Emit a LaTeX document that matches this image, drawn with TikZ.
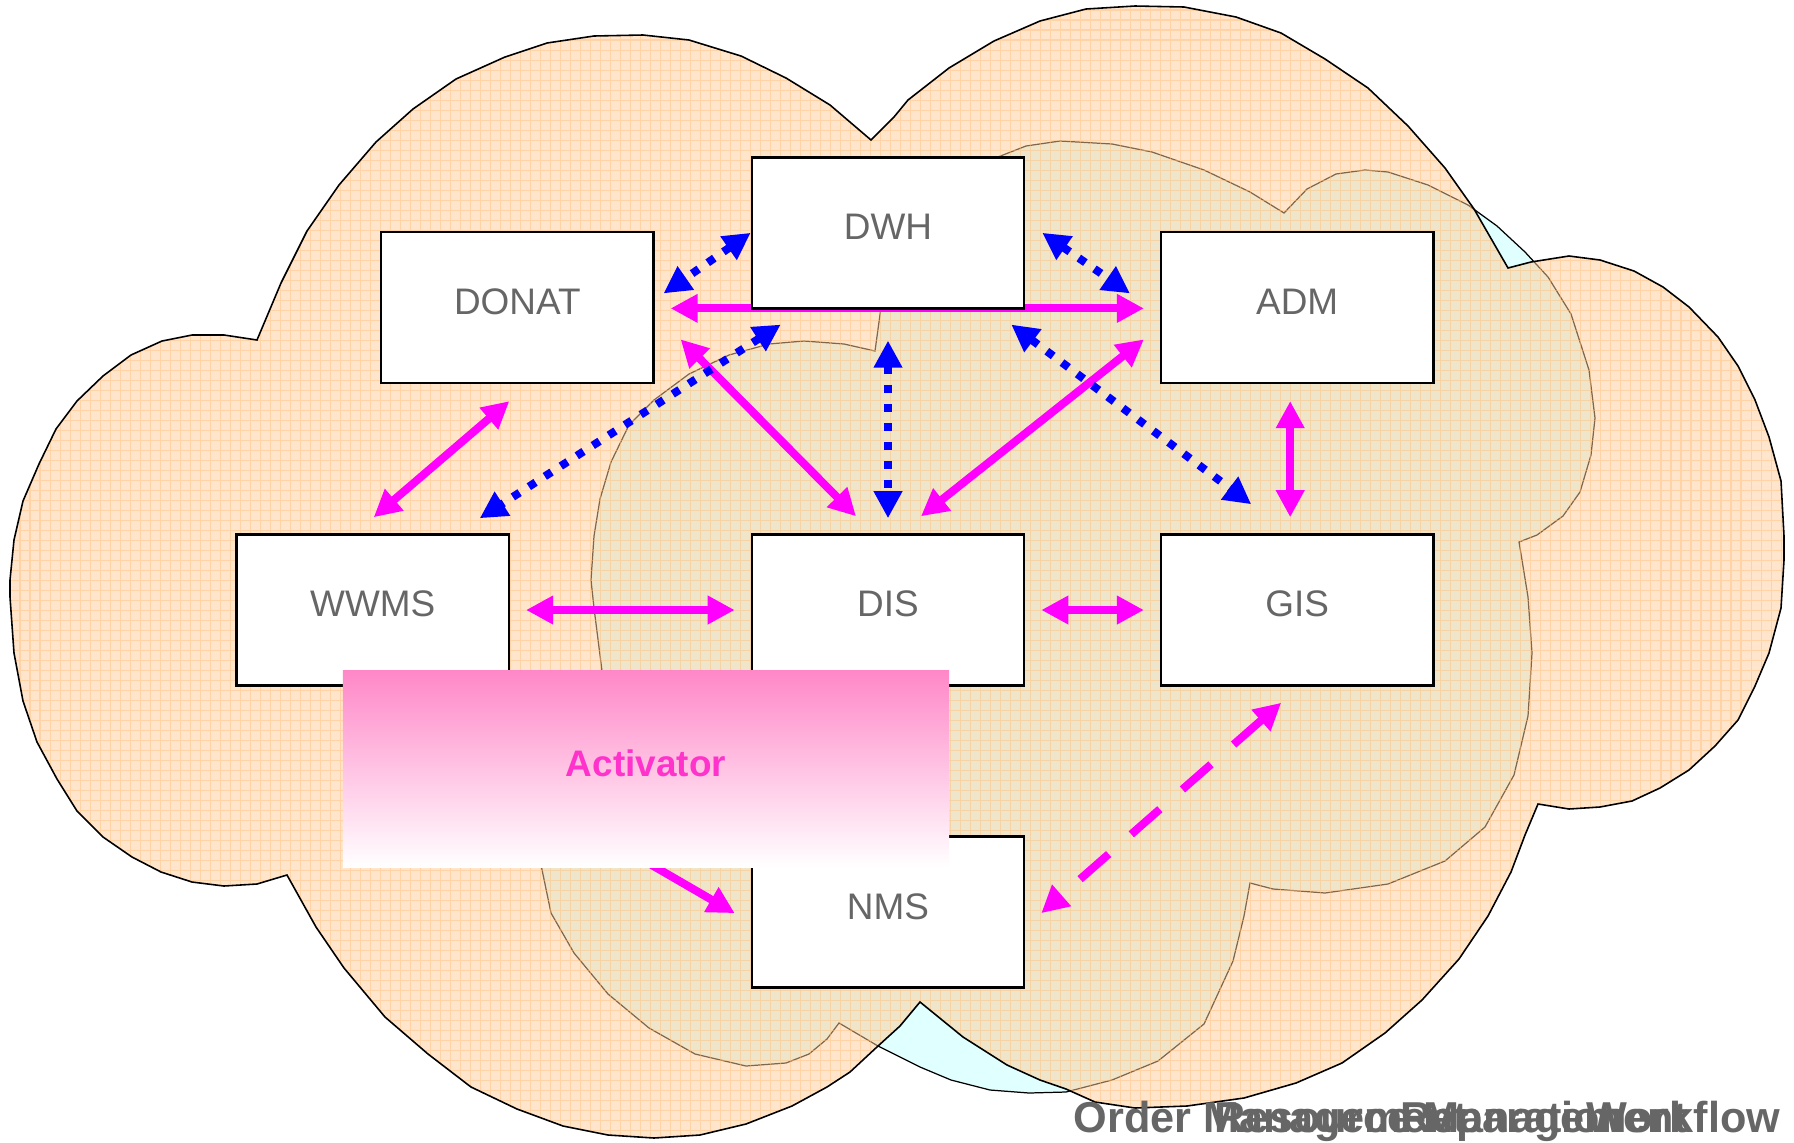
\documentclass[tikz,border=0pt]{standalone}
\usepackage{fontspec}
\setmainfont{Liberation Sans}
\usepackage{xcolor}
\usetikzlibrary{arrows.meta,positioning,calc}

\definecolor{linkpink}{RGB}{255,0,255}
\definecolor{linkblue}{RGB}{0,0,255}
\definecolor{cloudpeach}{RGB}{255,204,153}
\definecolor{cloudcyan}{RGB}{224,255,255}
\definecolor{gridorange}{RGB}{255,190,120}
\definecolor{labelgray}{RGB}{102,102,102}
\definecolor{actpink}{RGB}{255,136,200}
\definecolor{actmagenta}{RGB}{255,51,204}

\pgfdeclarelayer{clouds}
\pgfdeclarelayer{links}
\pgfsetlayers{clouds,links,main}

% outline of the big cloud
\newcommand{\outercloud}{(257,340) -- (281,283) -- (307,231) -- (339,185) -- (376,142) -- (413,109) -- (456,79) -- (505,57) -- (547,43) -- (594,36) -- (643,35) -- (689,40) -- (741,56) -- (786,78) -- (830,105) -- (871,140) -- (894,117) -- (908,100) -- (949,68) -- (994,41) -- (1040,21) -- (1086,9) -- (1135,6) -- (1184,7) -- (1236,17) -- (1281,33) -- (1325,59) -- (1368,88) -- (1408,126) -- (1445,168) -- (1474,209) -- (1508,268) -- (1531,262) -- (1569,256) -- (1600,260) -- (1634,271) -- (1663,287) -- (1689,307) -- (1718,337) -- (1738,366) -- (1755,400) -- (1769,437) -- (1781,481) -- (1784,536) -- (1784,560) -- (1781,608) -- (1769,653) -- (1755,686) -- (1738,720) -- (1715,746) -- (1689,770) -- (1660,788) -- (1632,801) -- (1600,807) -- (1569,809) -- (1538,804) -- (1525,835) -- (1511,872) -- (1488,916) -- (1459,959) -- (1422,1000) -- (1385,1033) -- (1342,1063) -- (1296,1083) -- (1244,1098) -- (1187,1106) -- (1135,1108) -- (1095,1102) -- (1066,1089) -- (1040,1080) -- (1007,1065) -- (963,1037) -- (920,1002) -- (900,1026) -- (878,1046) -- (850,1072) -- (827,1087) -- (792,1106) -- (746,1124) -- (700,1135) -- (654,1138) -- (608,1135) -- (563,1126) -- (517,1109) -- (471,1087) -- (428,1054) -- (385,1017) -- (344,968) -- (316,927) -- (287,875) -- (257,884) -- (224,886) -- (192,882) -- (161,872) -- (132,857) -- (103,837) -- (77,811) -- (57,779) -- (37,742) -- (23,701) -- (14,653) -- (10,597) -- (10,580) -- (14,540) -- (23,501) -- (39,464) -- (56,429) -- (77,401) -- (103,376) -- (131,355) -- (162,341) -- (192,335) -- (224,335) -- cycle}
% outline of the small cloud behind it
\newcommand{\innercloud}{(875,351) -- (844,344) -- (804,341) -- (769,344) -- (729,355) -- (689,374) -- (654,400) -- (629,425) -- (611,462) -- (600,499) -- (594,536) -- (591,580) -- (594,608) -- (602,671) -- (610,720) -- (580,760) -- (552,810) -- (540,860) -- (551,913) -- (574,953) -- (608,994) -- (649,1028) -- (695,1054) -- (746,1066) -- (786,1063) -- (809,1054) -- (827,1039) -- (839,1023) -- (878,1046) -- (920,1067) -- (951,1080) -- (990,1090) -- (1029,1093) -- (1066,1092) -- (1112,1080) -- (1158,1061) -- (1204,1024) -- (1233,961) -- (1244,916) -- (1250,883) -- (1273,889) -- (1325,893) -- (1388,884) -- (1445,861) -- (1485,827) -- (1514,775) -- (1528,716) -- (1532,653) -- (1528,597) -- (1522,560) -- (1519,542) -- (1537,535) -- (1563,516) -- (1580,492) -- (1591,455) -- (1595,418) -- (1589,370) -- (1571,314) -- (1548,277) -- (1525,252) -- (1497,226) -- (1468,205) -- (1428,185) -- (1388,172) -- (1365,170) -- (1336,174) -- (1307,189) -- (1284,213) -- (1250,192) -- (1204,170) -- (1152,152) -- (1112,144) -- (1060,141) -- (1026,146) -- (1003,155) -- (960,172) -- (920,205) -- (895,250) -- (882,300) -- cycle}

\begin{document}
\begin{tikzpicture}[
    x=0.01cm, y=-0.01cm,
    sysbox/.style={
        rectangle,
        draw=black,
        line width=0.7pt,
        fill=white,
        minimum width=2.72cm,
        minimum height=1.51cm,
        inner sep=0pt,
        text=labelgray,
        text depth=0.12cm,
        font=\fontsize{10.5}{12}\selectfont
    },
    actbox/.style={
        rectangle,
        minimum width=6.06cm,
        minimum height=1.96cm,
        inner sep=0pt,
        top color=actpink,
        bottom color=white,
        text=actmagenta,
        text depth=0.12cm,
        font=\bfseries\fontsize{10.5}{12}\selectfont
    },
    link/.style={{Triangle[length=2.7mm,width=2.7mm]}-{Triangle[length=2.7mm,width=2.7mm]}, linkpink, line width=0.8mm},
    oneway/.style={-{Triangle[length=2.7mm,width=2.7mm]}, linkpink, line width=0.8mm},
    dashlink/.style={link, dash pattern=on 3.8mm off 3mm},
    dotlink/.style={{Triangle[length=2.7mm,width=2.7mm]}-{Triangle[length=2.7mm,width=2.7mm]}, linkblue, line width=0.8mm, dash pattern=on 0.8mm off 1.1mm},
    slidetext/.style={inner sep=0pt, text=labelgray, font=\bfseries\fontsize{12.3}{14}\selectfont}
]
\useasboundingbox (0,0) rectangle (1794,1142);

% =========================================
% Clouds
% =========================================
\begin{pgfonlayer}{clouds}
\filldraw[fill=cloudcyan, draw=black, line width=0.35pt] \innercloud;
\fill[cloudpeach, fill opacity=0.5] \outercloud;
\begin{scope}
    \clip \outercloud;
    \draw[gridorange, line width=0.3pt, opacity=0.45, step=1mm] (0,0) grid (1794,1142);
\end{scope}
\draw[black, line width=0.45pt] \outercloud;
\end{pgfonlayer}

% =========================================
% Systems
% =========================================
\node[sysbox] (dis) at (888,610) {DIS};
\node[sysbox, left=2.405cm of dis] (wwms) {WWMS};
\node[sysbox, right=1.345cm of dis] (gis) {GIS};
\node[sysbox, above=2.235cm of dis] (dwh) {DWH};
\node[sysbox, below=1.485cm of dis] (nms) {NMS};
\node[sysbox, above=1.49cm of wwms, xshift=1.445cm] (donat) {DONAT};
\node[sysbox, above=1.49cm of gis] (adm) {ADM};

% free end of the link hidden behind the activator
\coordinate (actout) at (600,835);

% =========================================
% Links
% =========================================
\begin{pgfonlayer}{links}
% solid magenta
\draw[link] ($(donat.east)+(16,1)$) -- ($(adm.west)+(-16,1)$);
\draw[link] ($(donat.east)+(26,32)$) -- ($(dis.north)+(-32,-17)$);
\draw[link] ($(adm.west)+(-16,32)$) -- ($(dis.north)+(33,-17)$);
\draw[link] ($(donat.south)+(-8,17)$) -- ($(wwms.north)+(1,-16)$);
\draw[link] ($(adm.south)+(-7,17)$) -- ($(gis.north)+(-7,-16)$);
\draw[link] ($(wwms.east)+(16,0)$) -- ($(dis.west)+(-16,0)$);
\draw[link] ($(dis.east)+(16,0)$) -- ($(gis.west)+(-16,0)$);
\draw[oneway] (actout) -- ($(nms.west)+(-16,1)$);
\draw[dashlink] ($(gis.south)+(-16,16)$) -- ($(nms.east)+(16,1)$);
% dotted blue (DWH)
\draw[dotlink] (dwh.west) -- ($(donat.east)+(9,-14)$);
\draw[dotlink] ($(dwh.east)+(17,0)$) -- ($(adm.west)+(-30,-14)$);
\draw[dotlink] ($(dwh.south west)+(30,15)$) -- ($(wwms.north)+(107,-15)$);
\draw[dotlink] ($(dwh.south)+(0,31)$) -- ($(dis.north)+(0,-15)$);
\draw[dotlink] ($(dwh.south east)+(-14,15)$) -- ($(gis.north)+(-46,-29)$);
\end{pgfonlayer}

% =========================================
% Activator
% =========================================
\node[actbox] (act) at (646,769) {Activator};

% overlapping slide titles
\node[slidetext, anchor=base west] (ordertxt) at (1073,1132) {Order Management};
\node[slidetext, anchor=base west] (restxt) at (1214,1132) {Resource Management};
\node[slidetext, anchor=base west] (reptxt) at (1400,1132) {Reparation};
\node[slidetext, anchor=base east] (flowtxt) at (1781,1132) {Workflow};

\end{tikzpicture}
\end{document}
